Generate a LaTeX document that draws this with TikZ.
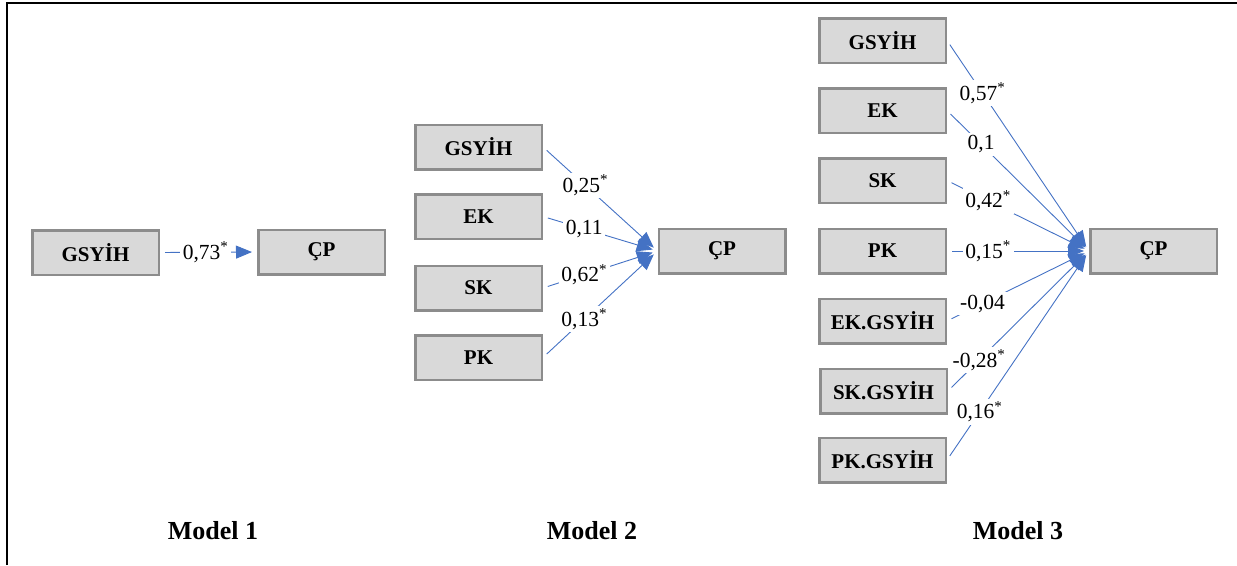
\documentclass[tikz,border=0pt]{standalone}
\usepackage{fontspec}
\setmainfont{Liberation Serif}
\usetikzlibrary{arrows.meta}

\definecolor{kutugri}{HTML}{D9D9D9}
\definecolor{kenargri}{HTML}{8C8C8C}
\definecolor{yolmavi}{HTML}{4472C4}

\tikzset{
	degisken/.style={draw=kenargri, line width=2.5pt, fill=kutugri,
		minimum width=126.5pt, minimum height=44.5pt, inner sep=0pt,
		font=\bfseries\fontsize{21}{25}\selectfont},
	katsayi/.style={fill=white, inner sep=2.5pt, font=\fontsize{21.5}{25}\selectfont},
	yol/.style={draw=yolmavi, line width=0.9pt,
		-{Triangle[length=16pt,width=13pt]}, shorten <=5pt, shorten >=5pt},
	baslik/.style={font=\bfseries\fontsize{26}{30}\selectfont}
}

\begin{document}
\begin{tikzpicture}[x=1pt,y=-1pt]
		\useasboundingbox (0,0) rectangle (1237,565);
		\draw[line width=1.5pt] (7,565) -- (7,3) -- (1237,3);

		% Model 1
		\node[degisken] (m1gsyih) at (95.5,252.5) {GSYİH};
		\node[degisken] (m1cp) at (321.5,252) {ÇP};
		\draw[yol] (m1gsyih.east) -- node[katsayi, pos=0.47] {0,73\textsuperscript{*}} (m1cp.west);
		\node[baslik] (m1) at (213,531) {Model 1};

		% Model 2
		\node[degisken] (m2gsyih) at (478.5,147) {GSYİH};
		\node[degisken] (m2ek) at (478.5,216.5) {EK};
		\node[degisken] (m2sk) at (478.5,288) {SK};
		\node[degisken] (m2pk) at (478.5,357.5) {PK};
		\node[degisken] (m2cp) at (722,251) {ÇP};
		\draw[yol] (m2gsyih.east) -- node[katsayi, pos=0.37] {0,25\textsuperscript{*}} (m2cp.west);
		\draw[yol] (m2ek.east) -- node[katsayi, pos=0.36] {0,11} (m2cp.west);
		\draw[yol] (m2sk.east) -- node[katsayi, pos=0.36] {0,62\textsuperscript{*}} (m2cp.west);
		\draw[yol] (m2pk.east) -- node[katsayi, pos=0.36] {0,13\textsuperscript{*}} (m2cp.west);
		\node[baslik] (m2) at (592,531) {Model 2};

		% Model 3
		\node[degisken] (m3gsyih) at (882.5,40.5) {GSYİH};
		\node[degisken] (m3ek) at (882.5,110.5) {EK};
		\node[degisken] (m3sk) at (882.5,180.5) {SK};
		\node[degisken] (m3pk) at (882.5,251) {PK};
		\node[degisken] (m3ekg) at (882.5,321) {EK.GSYİH};
		\node[degisken] (m3skg) at (883.5,391) {SK.GSYİH};
		\node[degisken] (m3pkg) at (882.5,460) {PK.GSYİH};
		\node[degisken] (m3cp) at (1153.5,251) {ÇP};
		\draw[yol] (m3gsyih.east) -- node[katsayi, pos=0.25] {0,57\textsuperscript{*}} (m3cp.west);
		\draw[yol] (m3ek.east) -- node[katsayi, pos=0.24] {0,1} (m3cp.west);
		\draw[yol] (m3sk.east) -- node[katsayi, pos=0.29] {0,42\textsuperscript{*}} (m3cp.west);
		\draw[yol] (m3pk.east) -- node[katsayi, pos=0.29] {0,15\textsuperscript{*}} (m3cp.west);
		\draw[yol] (m3ekg.east) -- node[katsayi, pos=0.25] {-0,04} (m3cp.west);
		\draw[yol] (m3skg.east) -- node[katsayi, pos=0.22] {-0,28\textsuperscript{*}} (m3cp.west);
		\draw[yol] (m3pkg.east) -- node[katsayi, pos=0.23] {0,16\textsuperscript{*}} (m3cp.west);
		\node[baslik] (m3) at (1018,531) {Model 3};
	\end{tikzpicture}
\end{document}
